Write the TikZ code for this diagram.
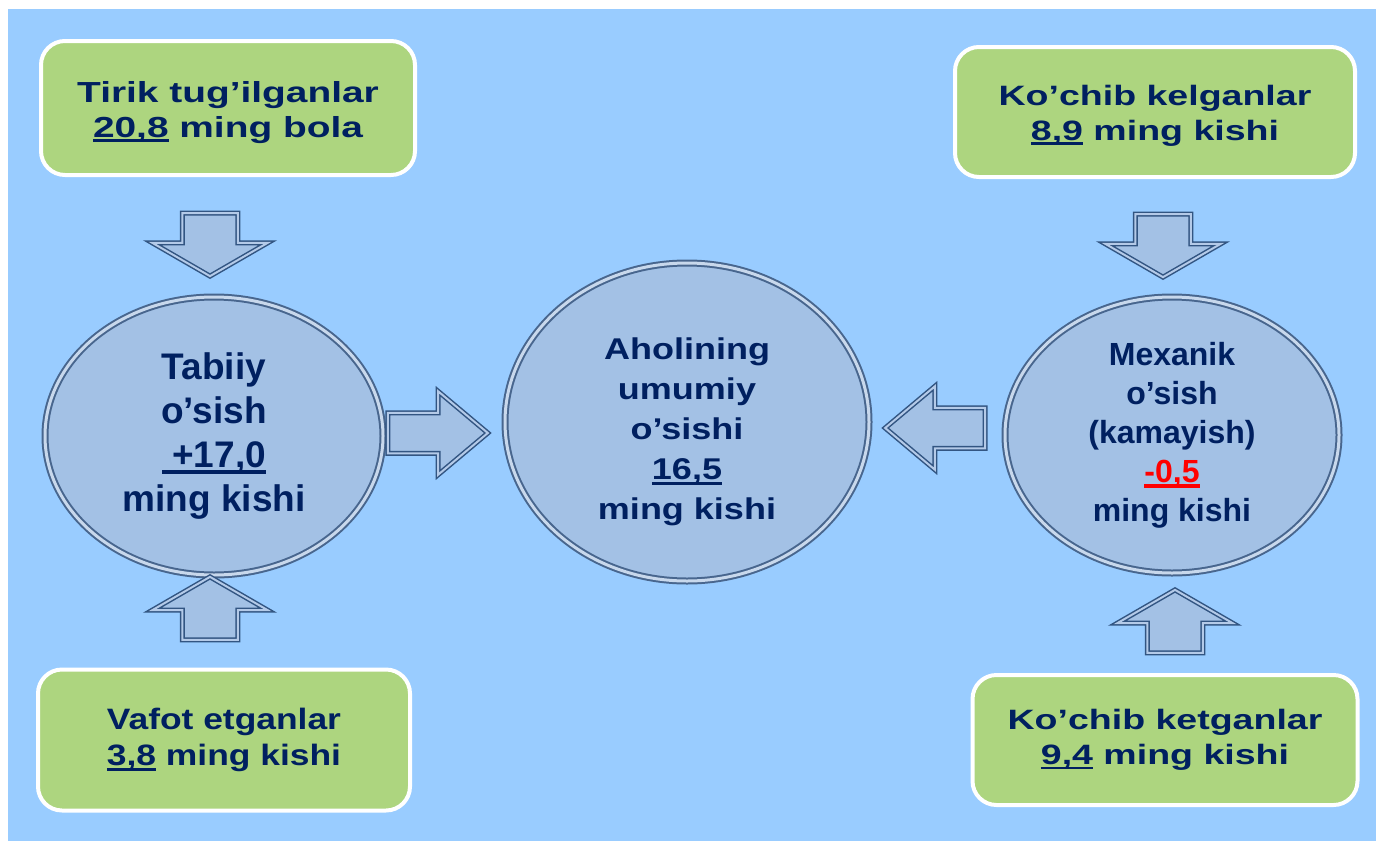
\documentclass[tikz,border=0pt]{standalone}
\usepackage{fontspec}
\setmainfont{Liberation Sans}
\newfontfamily\widefont[FakeStretch=1.34]{Liberation Sans}
\newfontfamily\midfont[FakeStretch=1.2]{Liberation Sans}
\usetikzlibrary{shapes.geometric,shapes.arrows}

\definecolor{bgblue}{RGB}{153,204,255}
\definecolor{boxgreen}{RGB}{173,213,127}
\definecolor{navy}{RGB}{0,32,96}
\definecolor{ellfill}{RGB}{163,193,229}
\definecolor{elledge}{RGB}{72,102,142}
\definecolor{elllight}{RGB}{200,216,236}
\definecolor{arrowfill}{RGB}{163,193,229}
\definecolor{arrowedge}{RGB}{50,85,130}
\definecolor{arrowlight}{RGB}{180,202,232}

% thick underline for the numbers
\newcommand{\numline}[1]{\setbox0\hbox{#1}\rlap{\rule[-0.17em]{\wd0}{0.1em}}#1}

\begin{document}
\begin{tikzpicture}[x=1pt, y=-1pt,
	greenbox/.style={draw=white, line width=4pt, fill=boxgreen, rounded corners=24pt, inner sep=0pt, text=navy, align=center},
	growth/.style={ellipse, draw=elledge, line width=2pt, double=elllight, double distance=3pt, fill=ellfill, inner sep=0pt, text=navy, align=center},
	blockarrow/.style={single arrow, draw=arrowedge, line width=1.5pt, double=arrowlight, double distance=2pt, fill=arrowfill, inner xsep=0pt, anchor=tip},
	vertarrow/.style={blockarrow, inner ysep=27pt, minimum width=114pt, minimum height=63pt, single arrow head extend=30pt, single arrow tip angle=120},
	horarrow/.style={blockarrow, inner ysep=19.5pt, minimum width=82pt, minimum height=100pt, single arrow head extend=21.5pt, single arrow tip angle=80}]
	% background
	\fill[white] (0, 0) rectangle (1376, 841);
	\fill[bgblue] (8, 9) rectangle (1376, 841);

	% green boxes
	\node[greenbox, minimum width=374pt, minimum height=134pt, font=\widefont\bfseries\fontsize{29}{35}\selectfont] (born) at (228, 108)
		{\rule{0pt}{30pt}Tirik tug’ilganlar\\\numline{20,8} ming bola};
	\node[greenbox, minimum width=372pt, minimum height=141pt, font=\midfont\bfseries\fontsize{29.5}{36}\selectfont] (died) at (224, 740)
		{Vafot etganlar\\\numline{3,8} ming kishi};
	\node[greenbox, minimum width=400pt, minimum height=130pt, font=\widefont\bfseries\fontsize{28}{35}\selectfont] (arrived) at (1155, 112)
		{\rule{0pt}{28pt}Ko’chib kelganlar\\\numline{8,9} ming kishi};
	\node[greenbox, minimum width=385pt, minimum height=130pt, font=\widefont\bfseries\fontsize{28}{35}\selectfont] (left) at (1165, 740)
		{Ko’chib ketganlar\\\numline{9,4} ming kishi};

	% growth ellipses
	\node[growth, minimum width=338pt, minimum height=278pt, font=\bfseries\fontsize{37}{44}\selectfont] (natural) at (214, 436)
		{Tabiiy\\o’sish\\\numline{\ +17,0}\\ming kishi};
	\node[growth, minimum width=364pt, minimum height=318pt, font=\midfont\bfseries\fontsize{30}{40}\selectfont] (total) at (687, 422)
		{\rule{0pt}{42pt}Aholining\\umumiy\\o’sishi\\\numline{16,5}\\ming kishi};
	\node[growth, minimum width=334pt, minimum height=276pt, font=\bfseries\fontsize{32}{39}\selectfont] (mech) at (1172, 435)
		{Mexanik\\o’sish\\(kamayish)\\\textcolor{red}{\numline{-0,5}}\\ming kishi};

	% block arrows
	\node[vertarrow, rotate=-90] (bornarrow) at ([xshift=-4pt, yshift=19pt]natural.north) {};
	\node[vertarrow, rotate=90] (diedarrow) at ([xshift=-4pt]natural.south) {};
	\node[horarrow] (naturalarrow) at ([xshift=-15pt, yshift=-11pt]total.west) {};
	\node[horarrow, rotate=180] (mecharrow) at ([xshift=14pt, yshift=-6pt]total.east) {};
	\node[vertarrow, rotate=-90] (arrivedarrow) at ([xshift=-9pt, yshift=18pt]mech.north) {};
	\node[vertarrow, rotate=90] (leftarrow) at ([xshift=3pt, yshift=-15pt]mech.south) {};
\end{tikzpicture}
\end{document}
